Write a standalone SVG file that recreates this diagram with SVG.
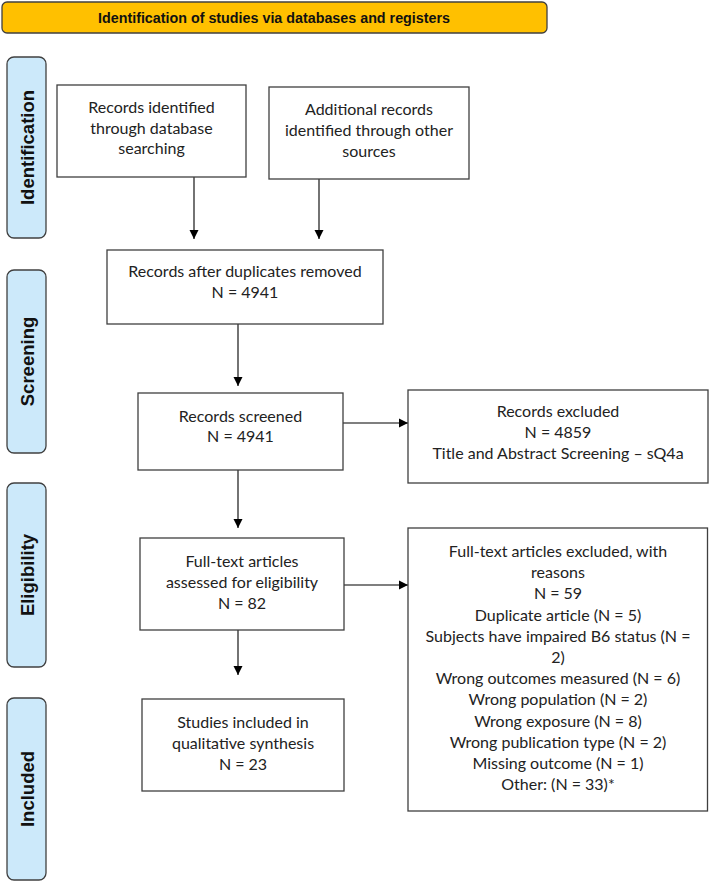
<svg xmlns="http://www.w3.org/2000/svg" width="709" height="882" viewBox="0 0 709 882">
<defs>
<marker id="ah" markerWidth="10" markerHeight="10" refX="9" refY="5" orient="auto" markerUnits="userSpaceOnUse">
<path d="M0,0.5 L9,5 L0,9.5 Z" fill="#000"/>
</marker>
<style>
.box{fill:#fff;stroke:#3f3f3f;stroke-width:1.3}
.side{fill:#CCE9FA;stroke:#404040;stroke-width:1.3}
.t{font-family:Lato,"Open Sans",sans-serif;font-size:16px;fill:#222;text-anchor:middle}
.s{font-family:"Liberation Sans",Arial,sans-serif;font-weight:bold;font-size:18.5px;fill:#111;text-anchor:middle}
.c{stroke:#000;stroke-width:1.1;fill:none;marker-end:url(#ah)}
</style>
</defs>
<rect width="709" height="882" fill="#fff"/>
<g id="title">
<rect x="2" y="2" width="545" height="31" rx="5" fill="#FFC000" stroke="#404040" stroke-width="1.3"/>
<text x="274" y="22.5" font-family="Liberation Sans, Arial, sans-serif" font-weight="bold" font-size="14.3" fill="#111" text-anchor="middle">Identification of studies via databases and registers</text>
</g>
<g id="side-identification">
<rect class="side" x="7" y="57" width="39" height="181" rx="7"/>
<text class="s" transform="translate(33.5,147.5) rotate(-90)">Identification</text>
</g>
<g id="side-screening">
<rect class="side" x="7" y="270" width="39" height="183" rx="7"/>
<text class="s" transform="translate(33.5,361.5) rotate(-90)">Screening</text>
</g>
<g id="side-eligibility">
<rect class="side" x="7" y="483" width="39" height="184" rx="7"/>
<text class="s" transform="translate(33.5,575) rotate(-90)">Eligibility</text>
</g>
<g id="side-included">
<rect class="side" x="7" y="698" width="39" height="182" rx="7"/>
<text class="s" transform="translate(33.5,789) rotate(-90)">Included</text>
</g>
<g id="connectors">
<line class="c" x1="194" y1="177" x2="194" y2="239"/>
<line class="c" x1="319" y1="179" x2="319" y2="239"/>
<line class="c" x1="238" y1="324" x2="238" y2="386"/>
<line class="c" x1="343" y1="423" x2="408" y2="423"/>
<line class="c" x1="238" y1="470" x2="238" y2="528"/>
<line class="c" x1="344" y1="585" x2="408" y2="585"/>
<line class="c" x1="238" y1="630" x2="238" y2="675"/>
</g>
<g id="n-db">
<rect class="box" x="57" y="85" width="189" height="92"/>
<text class="t" x="151.5" y="113">Records identified</text>
<text class="t" x="151.5" y="133.5">through database</text>
<text class="t" x="151.5" y="154">searching</text>
</g>
<g id="n-other">
<rect class="box" x="269" y="87" width="200" height="92"/>
<text class="t" x="369" y="115">Additional records</text>
<text class="t" x="369" y="136">identified through other</text>
<text class="t" x="369" y="157">sources</text>
</g>
<g id="n-dup">
<rect class="box" x="107" y="250" width="276" height="74"/>
<text class="t" x="245" y="277">Records after duplicates removed</text>
<text class="t" x="245" y="298">N = 4941</text>
</g>
<g id="n-screened">
<rect class="box" x="138" y="393" width="205" height="77"/>
<text class="t" x="240.5" y="421.5">Records screened</text>
<text class="t" x="240.5" y="442">N = 4941</text>
</g>
<g id="n-excluded">
<rect class="box" x="408" y="390" width="300" height="93"/>
<text class="t" x="558" y="417">Records excluded</text>
<text class="t" x="558" y="438">N = 4859</text>
<text class="t" x="558" y="459">Title and Abstract Screening – sQ4a</text>
</g>
<g id="n-fulltext">
<rect class="box" x="140" y="538" width="204" height="92"/>
<text class="t" x="242" y="566.5">Full-text articles</text>
<text class="t" x="242" y="588">assessed for eligibility</text>
<text class="t" x="242" y="609">N = 82</text>
</g>
<g id="n-ft-excluded">
<rect class="box" x="408" y="528" width="299.5" height="283"/>
<text class="t" x="558" y="557">Full-text articles excluded, with</text>
<text class="t" x="558" y="578.2">reasons</text>
<text class="t" x="558" y="599.4">N = 59</text>
<text class="t" x="558" y="620.6">Duplicate article (N = 5)</text>
<text class="t" x="558" y="641.8">Subjects have impaired B6 status (N =</text>
<text class="t" x="558" y="663">2)</text>
<text class="t" x="558" y="684.2">Wrong outcomes measured (N = 6)</text>
<text class="t" x="558" y="705.4">Wrong population (N = 2)</text>
<text class="t" x="558" y="726.6">Wrong exposure (N = 8)</text>
<text class="t" x="558" y="747.8">Wrong publication type (N = 2)</text>
<text class="t" x="558" y="769">Missing outcome (N = 1)</text>
<text class="t" x="558" y="790.2">Other: (N = 33)*</text>
</g>
<g id="n-included">
<rect class="box" x="142" y="699" width="202" height="92"/>
<text class="t" x="243" y="728">Studies included in</text>
<text class="t" x="243" y="749">qualitative synthesis</text>
<text class="t" x="243" y="770">N = 23</text>
</g>
</svg>
